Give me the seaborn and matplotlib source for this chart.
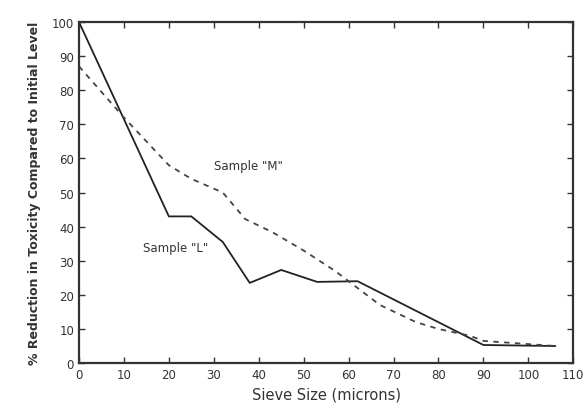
import numpy as np
import pandas as pd
import seaborn as sns
import matplotlib.pyplot as plt

# Data
size_l = [0, 20, 25, 32, 38, 45, 53, 62, 90, 106]
reduction_l = [100, 43, 43, 35.5, 23.5, 27.3, 23.8, 24, 5.3, 5]

size_m = [0, 10, 20, 25, 32, 37, 43, 50, 57, 60, 67, 75, 80, 87, 90, 106]
reduction_m = [87, 72, 58, 54, 50, 42.2, 38.4, 33, 27, 24, 17, 12, 10, 8, 6.5, 5]

x_ticks = list(range(0, 111, 10))
y_ticks = list(range(0, 101, 10))

df_l = pd.DataFrame({'size': size_l, 'reduction': reduction_l})
df_m = pd.DataFrame({'size': size_m, 'reduction': reduction_m})

sns.set_style("ticks")
plt.rcParams['font.family'] = ['DejaVu Sans']

fig = plt.figure(figsize=(5.85, 4.1), dpi=100)
ax = fig.add_axes([0.135, 0.112, 0.845, 0.832])

sns.lineplot(data=df_l, x='size', y='reduction', ax=ax, color='#222222', linewidth=1.3)
sns.lineplot(data=df_m, x='size', y='reduction', ax=ax, color='#444444', linewidth=1.3,
             linestyle=(0, (3, 3)))

ax.set_xlim(0, 110)
ax.set_ylim(0, 100)
ax.set_xticks(x_ticks)
ax.set_yticks(y_ticks)
ax.tick_params(direction='in', top=True, right=True, length=4, width=1,
               labelsize=8.5, colors='#333333')
for s in ax.spines.values():
    s.set_linewidth(1.6)
    s.set_color('#333333')

ax.set_xlabel("Sieve Size (microns)", fontsize=10.5, color='#333333')
ax.set_ylabel("% Reduction in Toxicity Compared to Initial Level", fontsize=9,
              fontweight='bold', color='#333333', labelpad=8)

ax.text(37.6, 58, 'Sample "M"', fontsize=8.5, ha='center', va='center', color='#333333')
ax.text(21.6, 34, 'Sample "L"', fontsize=8.5, ha='center', va='center', color='#333333')

fig.savefig("out.png", dpi=100)
